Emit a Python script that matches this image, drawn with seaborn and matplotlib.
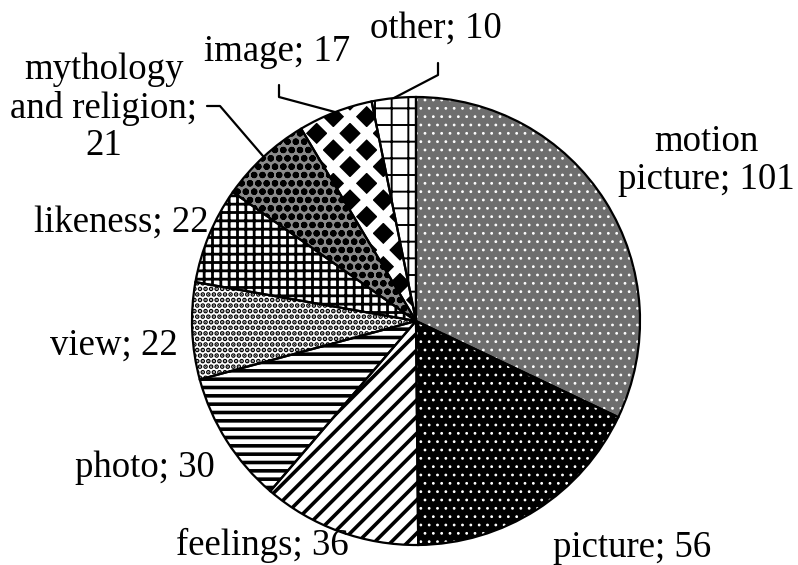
import numpy as np
import matplotlib
matplotlib.use('Agg')
import matplotlib.pyplot as plt
import seaborn as sns

# data (clockwise from 12 o'clock)
categories = ['motion picture', 'picture', 'feelings', 'photo', 'view',
              'likeness', 'mythology and religion', 'image', 'other']
values = [101, 56, 36, 30, 22, 22, 21, 17, 10]
label_text = ['motion\npicture; 101', 'picture; 56', 'feelings; 36', 'photo; 30',
              'view; 22', 'likeness; 22', 'mythology\nand religion;\n21',
              'image; 17', 'other; 10']

# fill / hatch look for every wedge
face_cols = ['#6e6e6e', '#000000', 'white', 'white', 'white',
             'white', '#8a8a8a', 'black', 'white']
hatch_cols = ['white', 'white', 'black', 'black', 'black',
              'black', 'black', 'white', 'black']
hatches = ['..', '..', '//', '--', '...', '++', 'oo', 'x', '+']
hatch_lw = [0.8, 0.8, 2.6, 2.6, 2.4, 2.0, 2.2, 6.0, 1.4]

sns.set_theme(style='white')
plt.rcParams['font.family'] = ['Liberation Serif', 'DejaVu Serif']

W, H = 798, 565
fig = plt.figure(figsize=(W / 100, H / 100), dpi=100)
ax = fig.add_axes([0, 0, 1, 1])

cx, cy, R = 416, H - 321, 224

# base fill
ax.pie(values, startangle=90, counterclock=False, center=(cx, cy), radius=R,
       colors=face_cols, wedgeprops=dict(linewidth=0), frame=True)
# hatch layer, one pie per wedge so each can get its own hatch width
for i in range(len(values)):
    plt.rcParams['hatch.linewidth'] = hatch_lw[i]
    hw, _ = ax.pie(values, startangle=90, counterclock=False, center=(cx, cy), radius=R,
                   colors=['none'] * len(values), wedgeprops=dict(linewidth=0), frame=True)
    for j, w in enumerate(hw):
        if j == i:
            w.set_hatch(hatches[i])
            w.set_edgecolor(hatch_cols[i])
        else:
            w.set_visible(False)
# outlines
ow, _ = ax.pie(values, startangle=90, counterclock=False, center=(cx, cy), radius=R,
               colors=['none'] * len(values),
               wedgeprops=dict(linewidth=1.6, edgecolor='black'), frame=True)
ax.set_xlim(0, W)
ax.set_ylim(0, H)
ax.set_aspect('equal')
ax.axis('off')

# label placement (pixel coords from top-left)
label_pos = [(706, 161), (632, 548), (262, 545), (145, 468), (114, 345),
             (121, 222), (104, 108), (277, 52), (436, 28)]
for txt, (x, y) in zip(label_text, label_pos):
    ax.text(x, H - y, txt, ha='center', va='center', fontsize=26.5,
            color='black', linespacing=1.13, multialignment='center')

# leader lines for the thin slices: start at label, elbow, then to wedge rim
leaders = {6: [(207, 106), (220, 106)], 7: [(279, 85), (279, 97)], 8: [(438, 63), (438, 75)]}
for i, pts in leaders.items():
    w = ow[i]
    mid = np.deg2rad((w.theta1 + w.theta2) / 2)
    ex, ey = cx + R * np.cos(mid), cy + R * np.sin(mid)
    xs = [p[0] for p in pts] + [ex]
    ys = [H - p[1] for p in pts] + [ey]
    ax.plot(xs, ys, color='black', lw=1.6)

fig.savefig('out.png', dpi=100, facecolor='white')
